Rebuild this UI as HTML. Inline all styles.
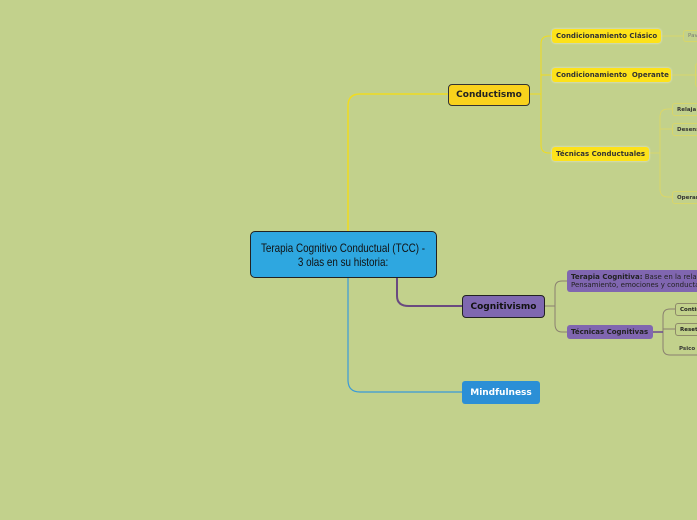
<!DOCTYPE html>
<html><head><style>
body{margin:0;width:697px;height:520px;background:#c2d18c;position:relative;overflow:hidden;font-family:"DejaVu Sans","Liberation Sans",sans-serif}
.n{position:absolute;box-sizing:border-box;white-space:nowrap;font-weight:bold;display:flex;align-items:center;overflow:hidden}
.y{background:#fde21a;border-radius:3px;font-size:7px;color:#333;padding-left:4px;box-shadow:0 0 2px #eed}
.s{border:1px solid #d8d66a;border-radius:3px;font-size:5.5px;color:#333;padding-left:4px}
.p{background:#8066b0;border-radius:3px;font-size:7px;color:#222;padding-left:4px}
.sp{border:1px solid #8e8a6a;border-radius:3px;font-size:5.5px;color:#222;padding-left:4px}
</style></head><body>
<svg width="697" height="520" style="position:absolute;left:0;top:0">
<g fill="none">
<path d="M348 231 V106 Q348 94 360 94 H448" stroke="#f0dc20" stroke-width="1.5"/>
<path d="M529 94 H541 M541 44 Q541 36 549 36 H552 M541 44 V145 Q541 153 549 153 H552 M541 75 H552" stroke="#f0dc20" stroke-width="1"/>
<path d="M660 36 H683 M671 75 H697 M648 153 H660 M660 117 Q660 109 668 109 H672 M660 117 V189 Q660 197 668 197 H672 M660 129 H672" stroke="#e0d860" stroke-width="0.8"/>
<path d="M397 278 V296 Q397 306 409 306 H462" stroke="#6a4a80" stroke-width="2"/>
<path d="M544 306 H555 M555 288 Q555 281 562 281 H567 M555 288 V324 Q555 332 562 332 H567" stroke="#8a8070" stroke-width="1"/>
<path d="M652 332 H663 M663 316 Q663 309 670 309 H675 M663 316 V348 Q663 355 670 355 H697 M663 329 H675" stroke="#8a8070" stroke-width="1"/>
<path d="M652 332 H663" stroke="#6a4a90" stroke-width="1.5"/>
<path d="M348 278 V380 Q348 392 360 392 H462" stroke="#3a9ad8" stroke-width="1.2"/>
</g></svg>
<div class="n" style="left:250px;top:231px;width:187px;height:47px;background:#2ea7e0;border:1.5px solid #222;border-radius:5px;justify-content:center;text-align:center;font-family:'Liberation Sans',sans-serif;font-weight:normal;color:#111"><span style="display:inline-block;transform:scaleX(0.82);font-size:12px;line-height:14px;white-space:nowrap">Terapia Cognitivo Conductual (TCC) -<br>3 olas en su historia:</span></div>
<div class="n" style="left:448px;top:84px;width:82px;height:22px;background:#f9d21c;border:1px solid #333;border-radius:4px;justify-content:center;font-size:9px;color:#222">Conductismo</div>
<div class="n y" style="left:552px;top:29px;width:109px;height:14px">Condicionamiento Clásico</div>
<div class="n y" style="left:552px;top:68px;width:119px;height:14px">Condicionamiento &nbsp;Operante</div>
<div class="n y" style="left:552px;top:147px;width:97px;height:14px">Técnicas Conductuales</div>
<div class="n s" style="left:683px;top:30px;width:30px;height:12px;color:#777;font-weight:normal">Pav</div>
<div class="n s" style="left:695px;top:63px;width:30px;height:24px"></div>
<div class="n s" style="left:672px;top:103px;width:40px;height:13px">Relaja</div>
<div class="n s" style="left:672px;top:123px;width:40px;height:13px">Desens</div>
<div class="n s" style="left:672px;top:191px;width:40px;height:13px">Operar</div>
<div class="n" style="left:462px;top:295px;width:83px;height:23px;background:#7f68b0;border:1px solid #222;border-radius:4px;justify-content:center;font-size:9px;color:#111">Cognitivismo</div>
<div class="n p" style="left:567px;top:270px;width:140px;height:22px;font-size:7px;line-height:8px;display:block;padding-top:3px;font-weight:normal">
<b>Terapia Cognitiva:</b> Base en la relación<br>Pensamiento, emociones y conducta</div>
<div class="n p" style="left:567px;top:325px;width:86px;height:14px">Técnicas Cognitivas</div>
<div class="n sp" style="left:675px;top:303px;width:40px;height:13px">Contin</div>
<div class="n sp" style="left:675px;top:323px;width:40px;height:13px">Reseti</div>
<div class="n" style="left:679px;top:346px;font-size:5.5px;color:#333">Psico</div>
<div class="n" style="left:462px;top:381px;width:78px;height:23px;background:#2b8fd6;border-radius:3px;justify-content:center;font-size:9px;color:#fff">Mindfulness</div>
</body></html>
